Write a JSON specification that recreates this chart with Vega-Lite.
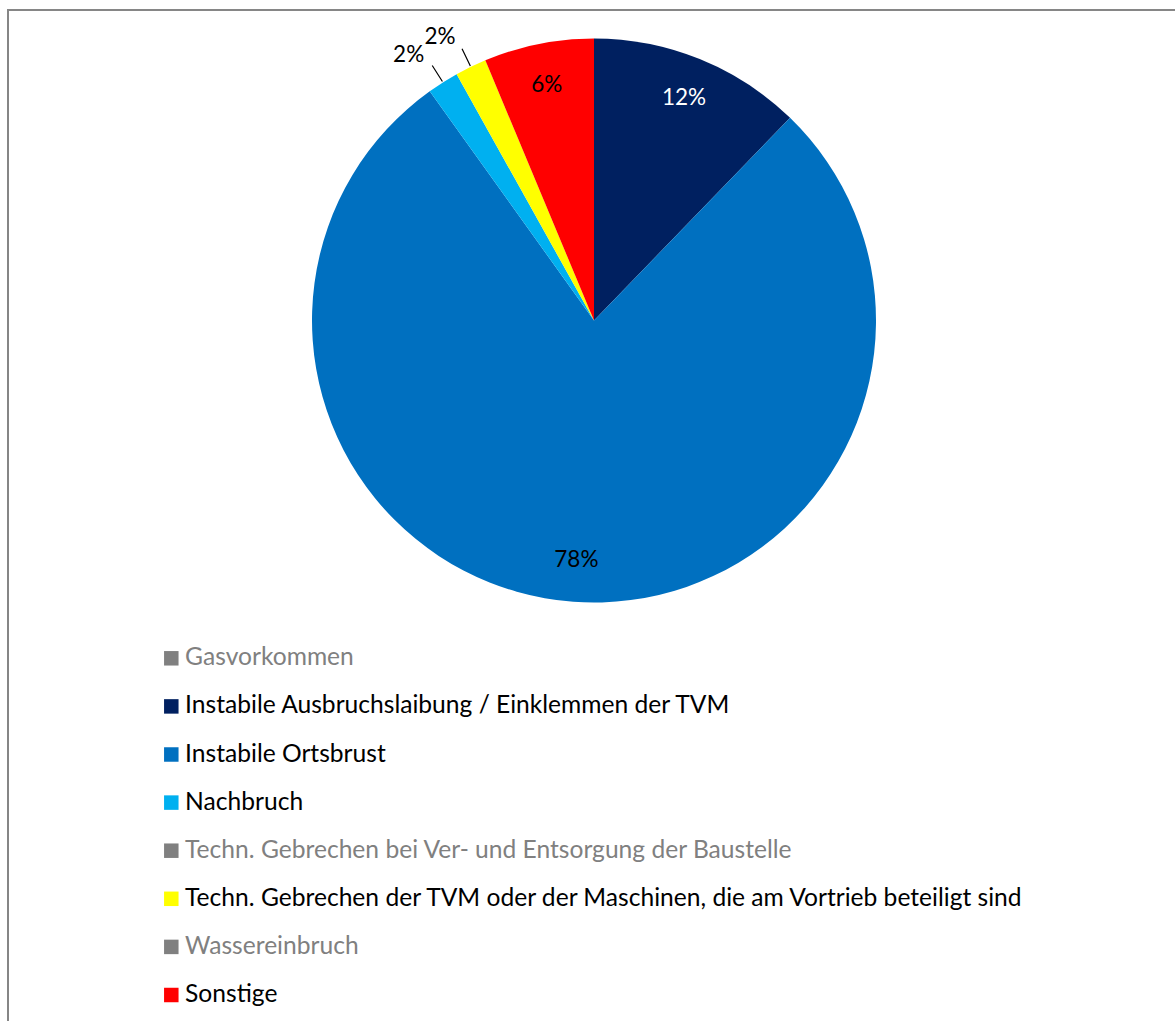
{
  "$schema": "https://vega.github.io/schema/vega-lite/v6.json",
  "width": 1172,
  "height": 1100,
  "autosize": {"type": "none"},
  "padding": {"left": 8, "top": 10, "right": 0, "bottom": 0},
  "background": "white",
  "view": {"stroke": "#868686", "strokeWidth": 2},
  "config": {"view": {"stroke": "#868686", "strokeWidth": 2}, "font": "Lato"},
  "data": {
    "values": [
      {"idx": 1, "category": "Gasvorkommen", "value": 0},
      {"idx": 2, "category": "Instabile Ausbruchslaibung / Einklemmen der TVM", "value": 0.1224},
      {"idx": 3, "category": "Instabile Ortsbrust", "value": 0.779},
      {"idx": 4, "category": "Nachbruch", "value": 0.018},
      {"idx": 5, "category": "Techn. Gebrechen bei Ver- und Entsorgung der Baustelle", "value": 0},
      {"idx": 6, "category": "Techn. Gebrechen der TVM oder der Maschinen, die am Vortrieb beteiligt sind", "value": 0.018},
      {"idx": 7, "category": "Wassereinbruch", "value": 0},
      {"idx": 8, "category": "Sonstige", "value": 0.063}
    ]
  },
  "encoding": {
    "theta": {"field": "value", "type": "quantitative", "stack": true},
    "order": {"field": "idx", "type": "quantitative"}
  },
  "layer": [
    {
      "mark": {"type": "arc", "radius": 282, "y": 310.5},
      "encoding": {
        "color": {
          "field": "category",
          "type": "nominal",
          "scale": {
            "domain": ["Gasvorkommen", "Instabile Ausbruchslaibung / Einklemmen der TVM", "Instabile Ortsbrust", "Nachbruch", "Techn. Gebrechen bei Ver- und Entsorgung der Baustelle", "Techn. Gebrechen der TVM oder der Maschinen, die am Vortrieb beteiligt sind", "Wassereinbruch", "Sonstige"],
            "range": ["#808080", "#002060", "#0070C0", "#00B0F0", "#808080", "#FFFF00", "#808080", "#FF0000"]
          },
          "legend": {
            "orient": "none",
            "legendX": 151,
            "legendY": 636,
            "title": null,
            "symbolType": "square",
            "symbolSize": 210,
            "symbolStrokeWidth": 0,
            "symbolOpacity": 1,
            "labelFontSize": 24.6,
            "labelFont": "Lato",
            "labelColor": "black",
            "labelLimit": 1000,
            "rowPadding": 23.1,
            "labelOffset": 1.5,
            "padding": 0,
            "symbolOffset": 0,
            "encode": {
              "labels": {
                "update": {
                  "fill": {"signal": "(datum.value === 'Gasvorkommen' || datum.value === 'Wassereinbruch' || datum.value === 'Techn. Gebrechen bei Ver- und Entsorgung der Baustelle') ? '#808080' : '#000000'"}
                }
              }
            }
          }
        }
      }
    },
    {
      "mark": {"type": "arc", "radius": 302, "radius2": 283, "padAngle": 0.3, "y": 310.5, "filled": false, "stroke": "black", "strokeWidth": 1.2},
      "encoding": {
        "strokeOpacity": {"condition": {"test": "datum.value > 0 && datum.value < 0.05", "value": 1}, "value": 0}
      }
    },
    {
      "mark": {"type": "text", "radius": 240, "y": 310.5, "fontSize": 22.5, "font": "Lato"},
      "encoding": {
        "text": {"condition": {"test": "datum.value >= 0.05", "field": "value", "type": "quantitative", "format": ".0%"}, "value": ""},
        "color": {"condition": {"test": "datum.idx == 2", "value": "white"}, "value": "black"}
      }
    },
    {
      "mark": {"type": "text", "radius": 318, "y": 310.5, "dx": -15, "dy": 3, "fontSize": 22.5, "font": "Lato", "color": "black"},
      "encoding": {
        "text": {"condition": {"test": "datum.value > 0 && datum.value < 0.05", "field": "value", "type": "quantitative", "format": ".0%"}, "value": ""}
      }
    }
  ]
}
